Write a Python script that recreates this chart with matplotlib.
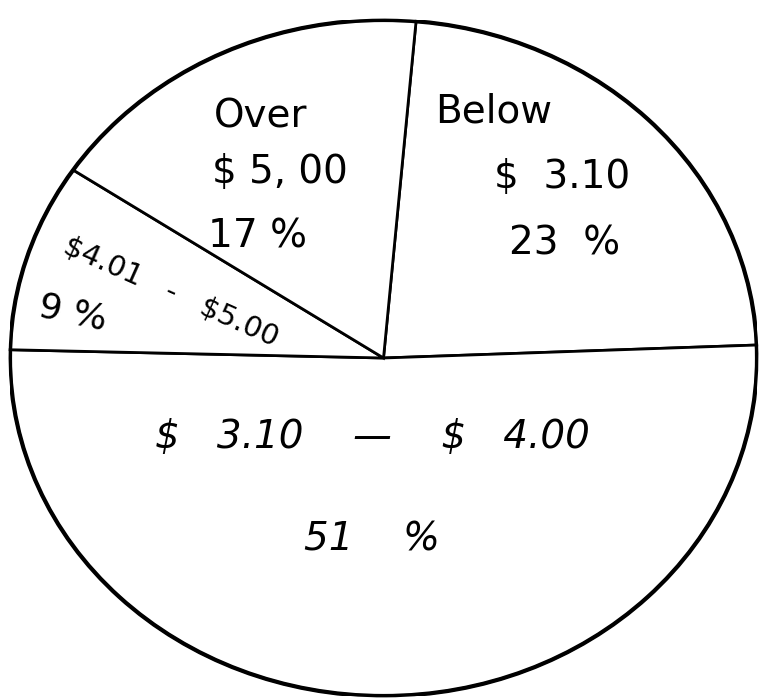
import matplotlib
matplotlib.use("Agg")
import matplotlib.pyplot as plt
from matplotlib.patches import Ellipse

categories = ["Below $3.10", "$3.10 - $4.00", "$4.01 - $5.00", "Over $5.00"]
shares = [23, 51, 9, 17]

fig = plt.figure(figsize=(7.6, 6.98), dpi=100)
W, H = 760, 698
left, right, top, bottom = 10, 757, 20, 696
ax = fig.add_axes([left / W, 1 - bottom / H, (right - left) / W, (bottom - top) / H])

wedges, _ = ax.pie(shares, startangle=85, counterclock=False,
                   colors=["white"] * len(shares),
                   wedgeprops=dict(edgecolor="black", linewidth=2.0))
ax.set_aspect("auto")
ax.set_xlim(-1.0, 1.0)
ax.set_ylim(-1.0, 1.0)
ax.axis("off")

# thicker outer outline
ax.add_patch(Ellipse((0, 0), 2.0, 2.0, fill=False, edgecolor="black", linewidth=3))

fam = "DejaVu Sans"
kw = dict(transform=ax.transAxes, ha="center", va="center", fontsize=28,
          family=fam, color="black")

ax.text(0.336, 0.857, "Over", **kw)
ax.text(0.361, 0.775, "\\$ 5, 00", **kw)
ax.text(0.331, 0.680, "17 %", **kw)

ax.text(0.647, 0.864, "Below", **kw)
ax.text(0.739, 0.768, "\\$  3.10", **kw)
ax.text(0.743, 0.670, "23  %", **kw)

kw_small = dict(kw)
kw_small["fontsize"] = 21
ax.text(0.216, 0.598, "\\$4.01   -   \\$5.00", rotation=-24, **kw_small)
kw9 = dict(kw)
kw9["fontsize"] = 26
ax.text(0.084, 0.567, "9 %", rotation=-12, **kw9)

kw_it = dict(kw)
kw_it["style"] = "italic"
ax.text(0.485, 0.383, "\\$   3.10    —    \\$   4.00", **kw_it)
ax.text(0.485, 0.231, "51    %", **kw_it)

fig.savefig("out.png", dpi=100, facecolor="white")
